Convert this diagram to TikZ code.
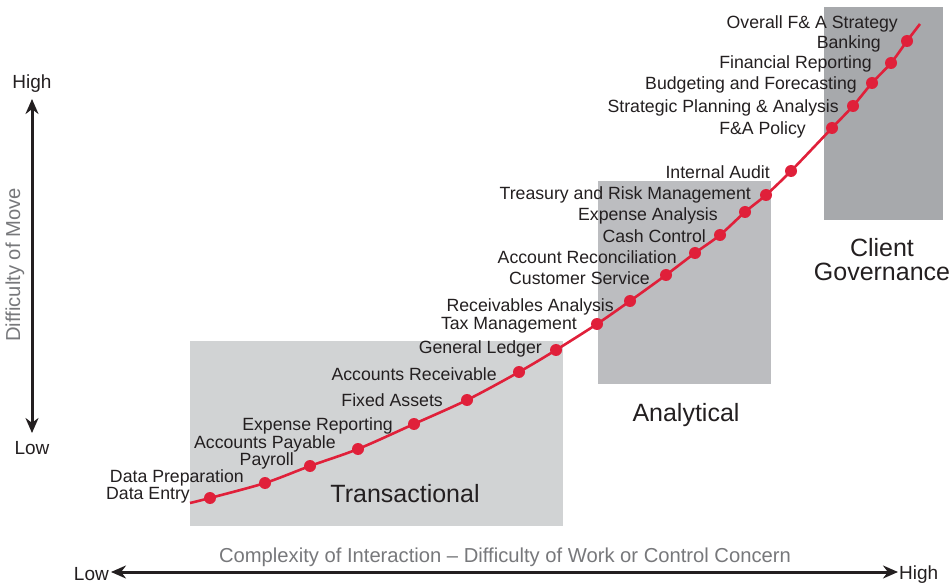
\documentclass[tikz,border=0pt]{standalone}
\usepackage{fontspec}
\setmainfont{Liberation Sans}
\usetikzlibrary{arrows.meta}
\definecolor{txt}{HTML}{231F20}
\definecolor{axgray}{HTML}{77787B}
\definecolor{boxA}{HTML}{D1D3D4}
\definecolor{boxB}{HTML}{BCBDC0}
\definecolor{boxC}{HTML}{A7A9AC}
\definecolor{curvered}{HTML}{E0203A}
\tikzset{
  lbl/.style={anchor=east,inner sep=0pt,text=txt,font=\fontsize{17.7}{20}\selectfont,yshift=-1.5pt},
  region/.style={inner sep=0pt,text=txt,font=\fontsize{25}{26}\selectfont,align=center,yshift=-2pt},
  dotp/.style={circle,fill=curvered,inner sep=0pt,minimum size=12pt},
  axisline/.style={line width=3pt,draw=txt,{Stealth[length=15pt,width=13pt]}-{Stealth[length=15pt,width=13pt]}},
  axlbl/.style={inner sep=0pt,text=txt,font=\fontsize{19}{22}\selectfont,yshift=-1.5pt},
  axtitle/.style={inner sep=0pt,text=axgray,font=\fontsize{20.2}{22}\selectfont},
}
\begin{document}
\begin{tikzpicture}[x=1pt,y=-1pt]
\useasboundingbox (0,0) rectangle (951,585);
% region boxes
\fill[boxA] (190,341) rectangle (563,526);
\fill[boxB] (598,181) rectangle (771,384);
\fill[boxC] (824,7) rectangle (943,220);
% curve coordinates
\coordinate (c0) at (190,503);
\coordinate (p1) at (210,498);
\coordinate (p2) at (265,483);
\coordinate (p3) at (310,466);
\coordinate (p4) at (358,449);
\coordinate (p5) at (414,424);
\coordinate (p6) at (467,400);
\coordinate (p7) at (519,372);
\coordinate (p8) at (556,350);
\coordinate (p9) at (597,324);
\coordinate (p10) at (630,301);
\coordinate (p11) at (666,275);
\coordinate (p12) at (695,253);
\coordinate (p13) at (720,235);
\coordinate (p14) at (745,212);
\coordinate (p15) at (766,195);
\coordinate (p16) at (791,171);
\coordinate (p17) at (832,128);
\coordinate (p18) at (853,106);
\coordinate (p19) at (872,83);
\coordinate (p20) at (891,63);
\coordinate (p21) at (907,41);
\coordinate (c1) at (920,24);
\draw[curvered,line width=2.6pt] plot[smooth,tension=0.5] coordinates {(c0) (p1) (p2) (p3) (p4) (p5) (p6) (p7) (p8) (p9) (p10) (p11) (p12) (p13) (p14) (p15) (p16) (p17) (p18) (p19) (p20) (p21) (c1)};
\foreach \i in {1,...,21} {\node[dotp] (d\i) at (p\i) {};}
% labels
\node[lbl] (l1) at (190,494) {Data Entry};
\node[lbl] (l2) at (244,476) {Data Preparation};
\node[lbl] (l3) at (294,459) {Payroll};
\node[lbl] (l4) at (336,442) {Accounts Payable};
\node[lbl] (l5) at (393,424) {Expense Reporting};
\node[lbl] (l6) at (443,399) {Fixed Assets};
\node[lbl] (l7) at (497,373) {Accounts Receivable};
\node[lbl] (l8) at (542,347) {General Ledger};
\node[lbl] (l9) at (577,324) {Tax Management};
\node[lbl] (l10) at (614,305) {Receivables Analysis};
\node[lbl] (l11) at (650,277) {Customer Service};
\node[lbl] (l12) at (677,256) {Account Reconciliation};
\node[lbl] (l13) at (706,235) {Cash Control};
\node[lbl] (l14) at (718,214) {Expense Analysis};
\node[lbl] (l15) at (751,193) {Treasury and Risk Management};
\node[lbl] (l16) at (770,171) {Internal Audit};
\node[lbl] (l17) at (806,128) {F\&A Policy};
\node[lbl] (l18) at (839,106) {Strategic Planning \& Analysis};
\node[lbl] (l19) at (857,83) {Budgeting and Forecasting};
\node[lbl] (l20) at (872,62) {Financial Reporting};
\node[lbl] (l21) at (881,42) {Banking};
\node[lbl] (l22) at (898,22) {Overall F\& A Strategy};
% region names
\node[region] (rT) at (405,492) {Transactional};
\node[region] (rA) at (686,413) {Analytical};
\node[region,text width=140pt] (rC) at (882,258) {Client\\[-2pt]Governance};
% axes
\node[axlbl] (vHigh) at (32,82) {High};
\node[axlbl] (vLow) at (32,447) {Low};
\coordinate (vt) at (32,99);
\coordinate (vb) at (32,433);
\draw[axisline] (vt) -- (vb);
\node[axtitle,rotate=90] (vTitle) at (15,265) {Difficulty of Move};
\node[axlbl,anchor=east] (hLow) at (109,573) {Low};
\node[axlbl,anchor=west] (hHigh) at (899,573) {High};
\coordinate (hl) at (111,572);
\coordinate (hr) at (898,572);
\draw[axisline] (hl) -- (hr);
\node[axtitle] (hTitle) at (505,557) {Complexity of Interaction -- Difficulty of Work or Control Concern};
\end{tikzpicture}
\end{document}
